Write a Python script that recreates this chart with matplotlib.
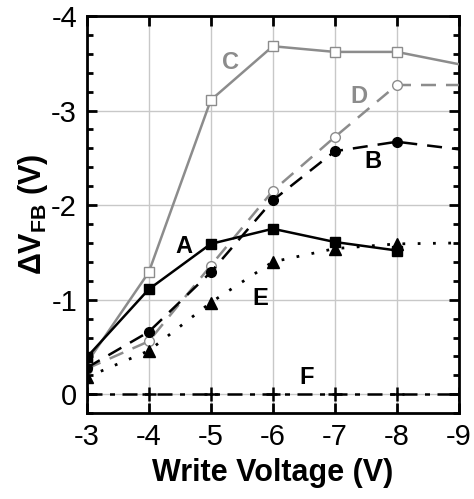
import matplotlib.pyplot as plt
from matplotlib.ticker import MultipleLocator

plt.rcParams['font.family'] = ['Liberation Sans', 'DejaVu Sans']
plt.rcParams['axes.unicode_minus'] = False
plt.rcParams['mathtext.fontset'] = 'custom'
plt.rcParams['mathtext.rm'] = 'Liberation Sans:bold'
plt.rcParams['mathtext.it'] = 'Liberation Sans:bold'
plt.rcParams['mathtext.bf'] = 'Liberation Sans:bold'

# Write voltages (V)
volts = [-3, -4, -5, -6, -7, -8, -9]

# Flat-band voltage shifts for each curve
shift_a = [-0.39, -1.11, -1.59, -1.75, -1.61, -1.52]
shift_b = [-0.28, -0.66, -1.29, -2.05, -2.57, -2.67, -2.59]
shift_c = [-0.33, -1.29, -3.11, -3.68, -3.62, -3.62, -3.49]
shift_d = [-0.27, -0.56, -1.36, -2.15, -2.72, -3.27, -3.27]
shift_e = [-0.18, -0.46, -0.97, -1.40, -1.54, -1.59, -1.60]
shift_f = [0, 0, 0, 0, 0, 0, 0]

GRAY = '#8c8c8c'

fig = plt.figure(figsize=(4.74, 4.99), dpi=100)
ax = fig.add_axes([0.183, 0.172, 0.785, 0.796])

ax.plot(volts, shift_c, '-', color=GRAY, lw=1.8, marker='s', ms=7,
        mfc='white', mec=GRAY, markevery=list(range(6)), zorder=3)
ax.plot(volts, shift_d, '--', color=GRAY, lw=1.8, dashes=(6, 4), marker='o',
        ms=7, mfc='white', mec=GRAY, markevery=list(range(6)), zorder=3)
ax.plot(volts, shift_b, '--', color='k', lw=1.8, dashes=(6, 4), marker='o',
        ms=7, mfc='k', mec='k', markevery=list(range(6)), zorder=4)
ax.plot(volts[:6], shift_a, '-', color='k', lw=1.8, marker='s', ms=7,
        mfc='k', zorder=4)
ax.plot(volts, shift_e, ':', color='k', lw=2, dashes=(1, 4.5), marker='^',
        ms=8, mfc='k', markevery=list(range(6)), zorder=4)
ax.plot(volts, shift_f, '-.', color='k', lw=1.8, dashes=(6, 3, 2, 3),
        marker='+', ms=10, mew=1.8, zorder=4)

# Curve labels
labels = [('C', -5.32, -3.51, GRAY), ('D', -7.39, -3.15, GRAY),
          ('B', -7.61, -2.46, 'k'), ('A', -4.56, -1.56, 'k'),
          ('E', -5.79, -1.01, 'k'), ('F', -6.55, -0.18, 'k')]
for name, lx, ly, col in labels:
    ax.text(lx, ly, name, color=col, fontsize=17, fontweight='bold',
            ha='center', va='center')

ax.set_xlim(-3, -9)
ax.set_ylim(0.2, -4)
ax.xaxis.set_major_locator(MultipleLocator(1))
ax.yaxis.set_major_locator(MultipleLocator(1))
ax.yaxis.set_minor_locator(MultipleLocator(0.2))
ax.grid(True, which='major', color='#c8c8c8', lw=1)
ax.set_axisbelow(True)

ax.tick_params(which='major', direction='in', length=7, width=2,
               labelsize=21, top=True, right=True, pad=7)
ax.tick_params(which='minor', direction='in', length=4, width=2,
               left=True, right=True)
for sp in ax.spines.values():
    sp.set_linewidth(2)

ax.set_xlabel('Write Voltage (V)', fontsize=22, fontweight='bold',
              labelpad=5)
ax.set_ylabel(r'$\Delta$V$_\mathbf{FB}$ (V)', fontsize=22, fontweight='bold')
ax.yaxis.set_label_coords(-0.1, 0.5)

fig.savefig('out.png', dpi=100)
